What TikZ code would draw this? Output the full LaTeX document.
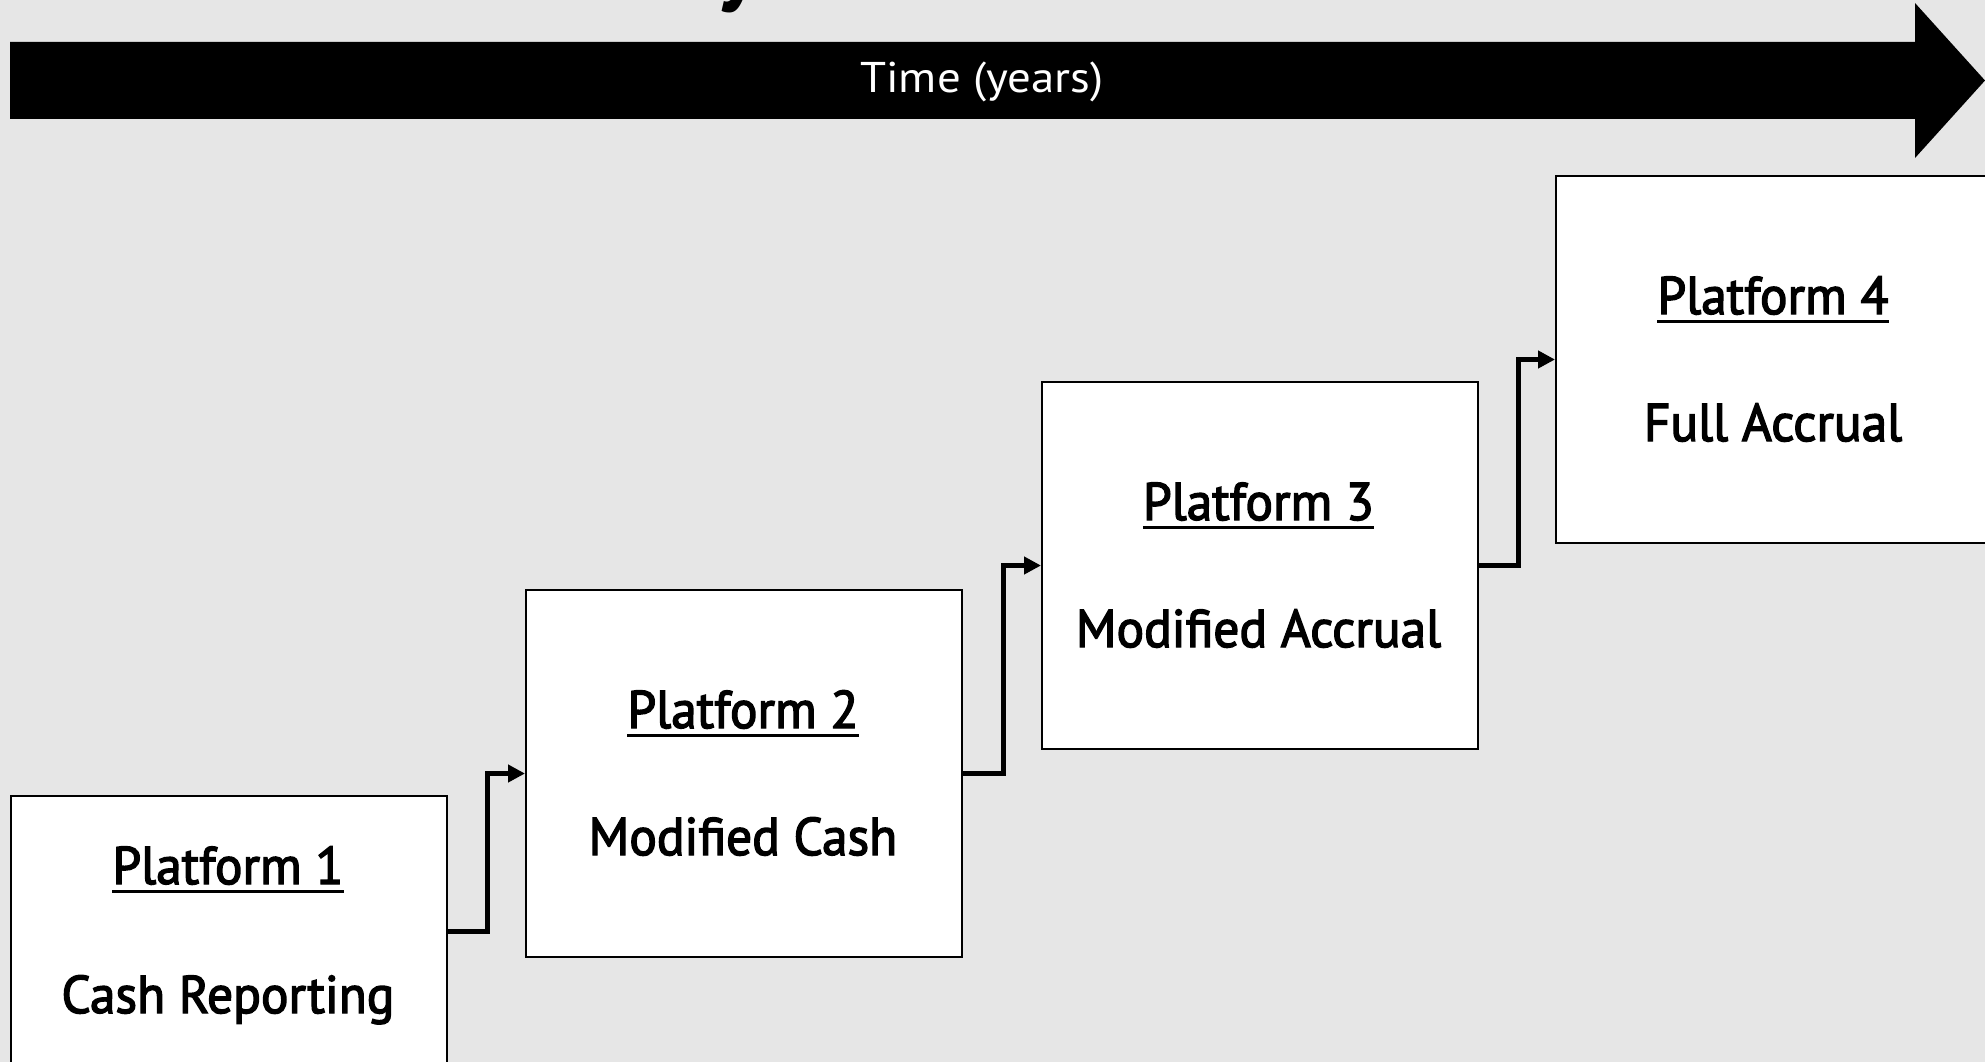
\documentclass[tikz,border=0pt]{standalone}
\usepackage{fontspec}
\setmainfont{PT Sans}[FakeStretch=0.97, FakeBold=2.6]
\newfontfamily\labelfont{PT Sans}[FakeStretch=1.09]
\newfontfamily\titlefont{PT Sans Bold}
\usetikzlibrary{arrows.meta}
\definecolor{canvas}{RGB}{230,230,230}
\begin{document}
\begin{tikzpicture}[x=1pt,y=-1pt,
  platform/.style={draw=black, line width=2pt, fill=white, minimum width=436pt,
    minimum height=367pt, anchor=north west, inner sep=0pt},
  heading/.style={font=\fontsize{53}{60}\selectfont, anchor=base, inner sep=0pt},
  subtitle/.style={font=\fontsize{53}{60}\selectfont, anchor=base, inner sep=0pt},
  uline/.style={line width=3pt},
  link/.style={line width=5pt, -{Triangle[length=17pt,width=17pt]}}
]
% canvas
\fill[canvas] (0,0) rectangle (1985,1062);
\useasboundingbox (0,0) rectangle (1985,1062);

% tail of the title lettering cut by the top edge
\begin{scope}
  \clip (0,0) rectangle (1985,1062);
  \node[font=\titlefont\fontsize{95}{100}\selectfont, anchor=base, inner sep=0pt] (titletail) at (738,-6) {y};
\end{scope}

% time arrow
\fill[black] (10,42) -- (1915,42) -- (1915,3) -- (1985,80.5) -- (1915,158)
  -- (1915,119) -- (10,119) -- cycle;
\node[white, font=\labelfont\fontsize{43}{48}\selectfont, anchor=base, inner sep=0pt] (time) at (982,93) {Time (years)};

% platform boxes
\node[platform] (b1) at (10,795) {};
\node[platform] (b2) at (525,589) {};
\node[platform] (b3) at (1041,381) {};
\node[platform] (b4) at (1555,175) {};

% box texts
\node[heading] (h1) at (228,884) {Platform 1};
\node[subtitle] (s1) at (228,1013) {Cash Reporting};
\node[heading] (h2) at (743,728) {Platform 2};
\node[subtitle] (s2) at (743,855) {Modified Cash};
\node[heading] (h3) at (1258.5,520) {Platform 3};
\node[subtitle] (s3) at (1258.5,647) {Modified Accrual};
\node[heading] (h4) at (1773,314) {Platform 4};
\node[subtitle] (s4) at (1773,441) {Full Accrual};

% underlines of the headings
\foreach \h in {h1,h2,h3,h4}{
  \draw[uline] ([yshift=-7.5pt]\h.base west) -- ([yshift=-7.5pt]\h.base east);
}

% step connectors
\draw[link] ([yshift=48.5pt]b1.east) -- ++(39.5,0) |- (b2.west);
\draw[link] (b2.east) -- ++(40,0) |- (b3.west);
\draw[link] (b3.east) -- ++(39.5,0) |- (b4.west);
\end{tikzpicture}
\end{document}
